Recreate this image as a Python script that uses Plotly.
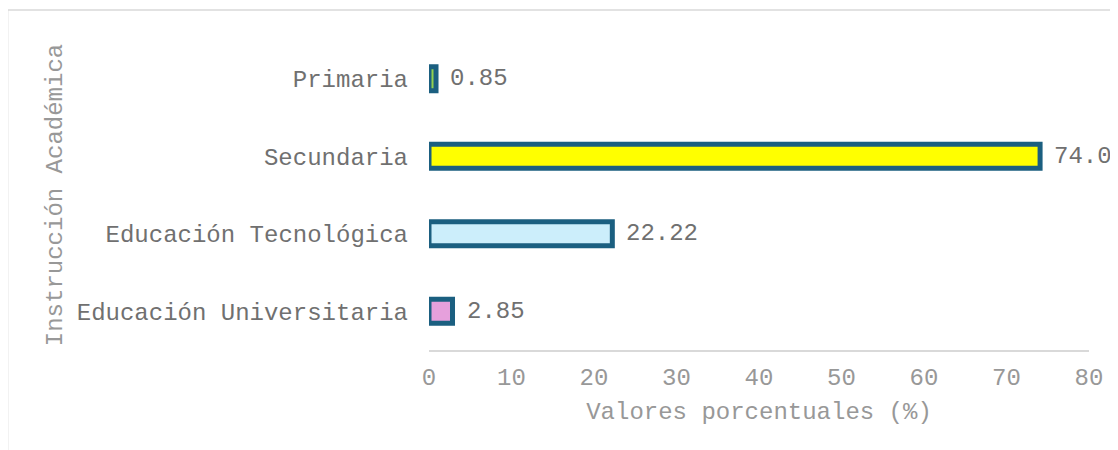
import plotly.graph_objects as go

categories = ["Educación Universitaria", "Educación Tecnológica", "Secundaria", "Primaria"]
values = [2.85, 22.22, 74.07, 0.85]
fill_colors = ["#E6A0DC", "#CCEEFB", "#FFFF00", "#92D050"]
x_ticks = [0, 10, 20, 30, 40, 50, 60, 70, 80]

FONT = "Liberation Mono, Courier New, monospace"
TXT = "#707070"
LIGHT = "#989898"

fig = go.Figure(go.Bar(
    x=values, y=categories, orientation="h",
    marker=dict(color=fill_colors, line=dict(color="#1B5F80", width=5)),
    width=0.31,
    hoverinfo="skip",
))

for c, v in zip(categories, values):
    fig.add_annotation(x=v, y=c, text=f"{v:.2f}", showarrow=False,
                       xanchor="left", yanchor="middle", xshift=12,
                       font=dict(family=FONT, size=24, color=TXT))

fig.add_shape(type="rect", xref="paper", yref="paper",
              x0=-0.6385, x1=1.08, y0=-0.40, y1=1.0968,
              line=dict(color="#D9D9D9", width=1.5), layer="below")

fig.update_layout(
    width=1118, height=450,
    margin=dict(l=421, r=37, t=32, b=108),
    paper_bgcolor="white", plot_bgcolor="white",
    showlegend=False,
    font=dict(family=FONT, size=24, color=TXT),
    xaxis=dict(range=[0, 80], tickvals=x_ticks, showgrid=False, zeroline=False,
               showline=True, linecolor="#D9D9D9", linewidth=1.5,
               ticklabelstandoff=4,
               tickfont=dict(family=FONT, size=24, color=LIGHT),
               title=dict(text="Valores porcentuales (%)", standoff=12,
                          font=dict(family=FONT, size=24, color=LIGHT)),
               fixedrange=True),
    yaxis=dict(showgrid=False, zeroline=False, showline=False,
               categoryorder="array", categoryarray=categories,
               ticklabelstandoff=20,
               tickfont=dict(family=FONT, size=24, color=TXT),
               title=dict(text="Instrucción Académica", standoff=7,
                          font=dict(family=FONT, size=24, color=LIGHT)),
               fixedrange=True),
)

fig.write_html("out.html")
